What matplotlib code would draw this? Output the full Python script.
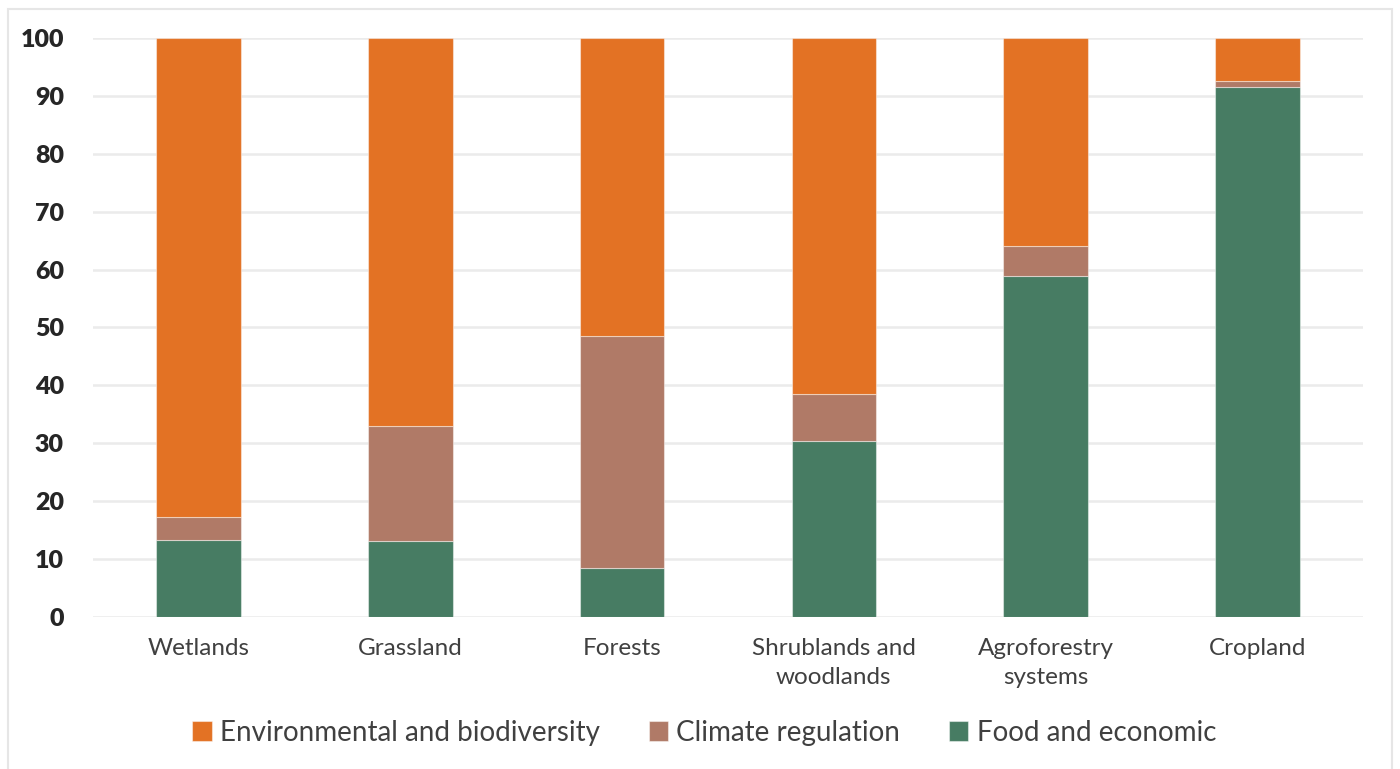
import matplotlib.pyplot as plt
import numpy as np
from matplotlib.patches import Rectangle

categories = ["Wetlands", "Grassland", "Forests", "Shrublands and\nwoodlands",
              "Agroforestry\nsystems", "Cropland"]
food = [13.3, 13.1, 8.5, 30.4, 58.9, 91.6]
climate = [4.0, 19.9, 40.0, 8.1, 5.2, 1.0]
environment = [100 - f - c for f, c in zip(food, climate)]

series = [
    ("Environmental and biodiversity", "#E37224"),
    ("Climate regulation", "#B07A67"),
    ("Food and economic", "#477C63"),
]

plt.rcParams["font.family"] = ["Lato", "DejaVu Sans"]
text_color = "#404040"

fig = plt.figure(figsize=(14, 7.69), dpi=100)
ax = fig.add_axes([0.0664, 0.1977, 0.9072, 0.7529])

x = np.arange(len(categories))
width = 0.4
edge = dict(edgecolor=(1, 1, 1, 0.45), linewidth=0.8)

b_food = ax.bar(x, food, width, color=series[2][1], label=series[2][0], zorder=3, **edge)
b_clim = ax.bar(x, climate, width, bottom=food, color=series[1][1], label=series[1][0], zorder=3, **edge)
bottom2 = [f + c for f, c in zip(food, climate)]
b_env = ax.bar(x, environment, width, bottom=bottom2, color=series[0][1], label=series[0][0], zorder=3, **edge)

ax.set_xlim(-0.5, len(categories) - 0.5)
ax.set_ylim(0, 100)
ax.set_yticks(range(0, 101, 10))
ax.yaxis.grid(True, color="#EBEBEB", linewidth=1.8, zorder=0)
ax.set_axisbelow(True)
for s in ax.spines.values():
    s.set_visible(False)

ax.tick_params(axis="both", length=0, colors=text_color)
ax.tick_params(axis="y", pad=21, labelsize=18)
ax.tick_params(axis="x", pad=15, labelsize=17.5)
for lbl in ax.get_yticklabels():
    lbl.set_fontweight("heavy")
    lbl.set_color("#262626")
ax.set_xticks(x)
ax.set_xticklabels(categories, linespacing=1.5, color=text_color)

fig.legend(handles=[b_env, b_clim, b_food], loc="center", bbox_to_anchor=(0.503, 0.047),
           ncol=3, frameon=False, fontsize=20, handlelength=0.7, handleheight=0.7,
           handletextpad=0.3, columnspacing=1.75, labelcolor=text_color)

# thin frame around the chart area
fig.patches.append(Rectangle((8 / 1400, -0.05), 1384 / 1400, 1.05 - 9 / 769,
                             transform=fig.transFigure, fill=False,
                             edgecolor="#E6E6E6", linewidth=1.5))

fig.savefig("out.png", dpi=100, facecolor="white")
